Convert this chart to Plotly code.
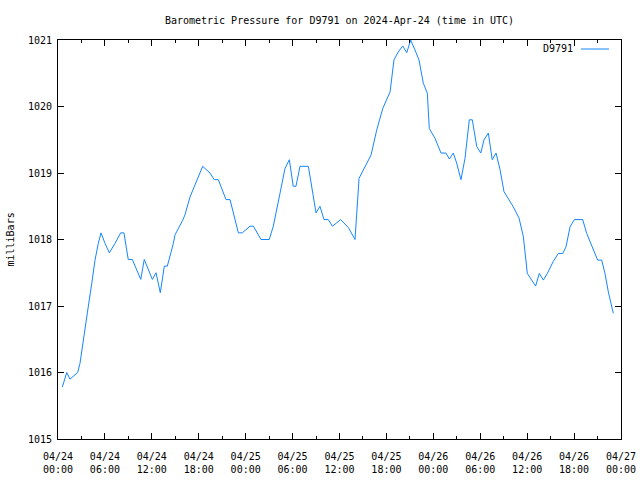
import plotly.graph_objects as go

times = [
    "2024-04-24 00:33", "2024-04-24 01:07", "2024-04-24 01:32", "2024-04-24 01:57",
    "2024-04-24 02:31", "2024-04-24 02:49", "2024-04-24 03:27", "2024-04-24 03:53",
    "2024-04-24 04:19", "2024-04-24 04:44", "2024-04-24 05:09", "2024-04-24 05:30",
    "2024-04-24 06:01", "2024-04-24 06:34", "2024-04-24 07:17", "2024-04-24 08:01",
    "2024-04-24 08:26", "2024-04-24 08:59", "2024-04-24 09:30", "2024-04-24 10:35",
    "2024-04-24 11:02", "2024-04-24 12:04", "2024-04-24 12:32", "2024-04-24 13:05",
    "2024-04-24 13:36", "2024-04-24 13:59", "2024-04-24 14:45", "2024-04-24 14:58",
    "2024-04-24 15:57", "2024-04-24 16:14", "2024-04-24 16:53", "2024-04-24 17:31",
    "2024-04-24 17:57", "2024-04-24 18:30", "2024-04-24 19:26", "2024-04-24 19:59",
    "2024-04-24 20:30", "2024-04-24 21:29", "2024-04-24 22:00", "2024-04-24 23:04",
    "2024-04-24 23:34", "2024-04-25 00:33", "2024-04-25 00:59", "2024-04-25 01:58",
    "2024-04-25 03:01", "2024-04-25 03:32", "2024-04-25 04:23", "2024-04-25 05:02",
    "2024-04-25 05:35", "2024-04-25 06:05", "2024-04-25 06:26", "2024-04-25 06:57",
    "2024-04-25 08:01", "2024-04-25 09:00", "2024-04-25 09:30", "2024-04-25 10:01",
    "2024-04-25 10:34", "2024-04-25 11:05", "2024-04-25 11:38", "2024-04-25 12:09",
    "2024-04-25 13:08", "2024-04-25 13:59", "2024-04-25 14:30", "2024-04-25 15:03",
    "2024-04-25 16:02", "2024-04-25 16:46", "2024-04-25 17:32", "2024-04-25 18:28",
    "2024-04-25 18:58", "2024-04-25 19:31", "2024-04-25 20:05", "2024-04-25 20:36",
    "2024-04-25 21:06", "2024-04-25 21:39", "2024-04-25 22:10", "2024-04-25 22:43",
    "2024-04-25 23:14", "2024-04-25 23:29", "2024-04-26 00:13", "2024-04-26 00:59",
    "2024-04-26 01:37", "2024-04-26 02:03", "2024-04-26 02:33", "2024-04-26 02:59",
    "2024-04-26 03:32", "2024-04-26 04:03", "2024-04-26 04:36", "2024-04-26 04:59",
    "2024-04-26 05:33", "2024-04-26 06:04", "2024-04-26 06:29", "2024-04-26 07:02",
    "2024-04-26 07:32", "2024-04-26 08:01", "2024-04-26 08:32", "2024-04-26 09:02",
    "2024-04-26 09:35", "2024-04-26 10:14", "2024-04-26 10:58", "2024-04-26 11:31",
    "2024-04-26 12:01", "2024-04-26 12:35", "2024-04-26 13:05", "2024-04-26 13:33",
    "2024-04-26 14:04", "2024-04-26 14:35", "2024-04-26 15:20", "2024-04-26 15:59",
    "2024-04-26 16:33", "2024-04-26 16:58", "2024-04-26 17:29", "2024-04-26 18:02",
    "2024-04-26 19:06", "2024-04-26 19:37", "2024-04-26 20:15", "2024-04-26 21:01",
    "2024-04-26 21:32", "2024-04-26 21:57", "2024-04-26 22:23", "2024-04-26 23:01",
]

pressure = [
    1015.78, 1016.00, 1015.90, 1015.94, 1016.00, 1016.14, 1016.69, 1017.00,
    1017.34, 1017.69, 1017.94, 1018.10, 1017.94, 1017.80, 1017.94, 1018.10,
    1018.10, 1017.70, 1017.70, 1017.40, 1017.70, 1017.40, 1017.50, 1017.20,
    1017.60, 1017.60, 1017.94, 1018.07, 1018.29, 1018.37, 1018.64, 1018.82,
    1018.97, 1019.10, 1019.00, 1018.90, 1018.90, 1018.60, 1018.60, 1018.10,
    1018.10, 1018.20, 1018.20, 1018.00, 1018.00, 1018.20, 1018.69, 1019.07,
    1019.20, 1018.80, 1018.80, 1019.10, 1019.10, 1018.40, 1018.50, 1018.30,
    1018.30, 1018.20, 1018.25, 1018.30, 1018.18, 1018.00, 1018.92, 1019.05,
    1019.27, 1019.65, 1019.97, 1020.22, 1020.70, 1020.82, 1020.91, 1020.81,
    1021.00, 1020.85, 1020.70, 1020.35, 1020.20, 1019.67, 1019.52, 1019.30,
    1019.30, 1019.21, 1019.30, 1019.15, 1018.90, 1019.22, 1019.80, 1019.80,
    1019.40, 1019.30, 1019.50, 1019.60, 1019.20, 1019.30, 1019.05, 1018.72,
    1018.62, 1018.49, 1018.32, 1018.04, 1017.49, 1017.39, 1017.30, 1017.49,
    1017.39, 1017.49, 1017.67, 1017.79, 1017.79, 1017.89, 1018.19, 1018.30,
    1018.30, 1018.09, 1017.92, 1017.69, 1017.69, 1017.49, 1017.21, 1016.89,
]

series_name = "D9791"
title_text = "Barometric Pressure for D9791 on 2024-Apr-24 (time in UTC)"
y_title = "milliBars"
x_range = ["2024-04-24 00:00", "2024-04-27 00:00"]
y_range = [1015, 1021]

FONT = "DejaVu Sans Mono"
LINE_COLOR = "#1486ff"

fig = go.Figure()
fig.add_trace(go.Scatter(
    x=times, y=pressure, mode="lines", name=series_name,
    line=dict(color=LINE_COLOR, width=1), showlegend=False,
))

fig.update_layout(
    width=640, height=480,
    margin=dict(l=58, r=19, t=40, b=41, autoexpand=False),
    paper_bgcolor="white", plot_bgcolor="white",
    font=dict(family=FONT, size=10, color="black"),
    title=dict(text=title_text, x=0.5, xref="paper", y=1 - 20 / 480,
               yref="container", xanchor="center", yanchor="middle",
               font=dict(family=FONT, size=10, color="black")),
)

fig.update_xaxes(
    type="date", range=x_range, automargin=False,
    showgrid=False, zeroline=False,
    showline=True, linecolor="black", linewidth=1, mirror="ticks",
    ticks="inside", ticklen=6, tickcolor="black", tickwidth=1,
    dtick=6 * 3600 * 1000, tick0="2024-04-24 00:00",
    tickformat="%m/%d<br>%H:%M", ticklabelstandoff=8,
    minor=dict(ticks="inside", ticklen=3, dtick=3 * 3600 * 1000,
               tickcolor="black", showgrid=False),
    tickfont=dict(family=FONT, size=10, color="black"),
)

fig.update_yaxes(
    range=y_range, automargin=False, showgrid=False, zeroline=False,
    showline=True, linecolor="black", linewidth=1, mirror="ticks",
    ticks="inside", ticklen=6, tickcolor="black", tickwidth=1,
    dtick=1, tick0=1015, ticklabelstandoff=3,
    tickfont=dict(family=FONT, size=10, color="black"),
)

fig.add_annotation(
    text=y_title, textangle=-90, xref="paper", yref="paper",
    x=(10 - 58) / 563, y=0.5, showarrow=False,
    xanchor="center", yanchor="middle",
    font=dict(family=FONT, size=10, color="black"),
)

fig.add_annotation(
    text=series_name, xref="paper", yref="paper",
    x=(575 - 58) / 563, y=1 - (49 - 40) / 399, showarrow=False,
    xanchor="right", yanchor="middle",
    font=dict(family=FONT, size=10, color="black"),
)
fig.add_shape(
    type="line", xref="paper", yref="paper",
    x0=(581 - 58) / 563, x1=(609 - 58) / 563,
    y0=1 - (49 - 40) / 399, y1=1 - (49 - 40) / 399,
    line=dict(color=LINE_COLOR, width=1),
)

fig.write_html("out.html")
